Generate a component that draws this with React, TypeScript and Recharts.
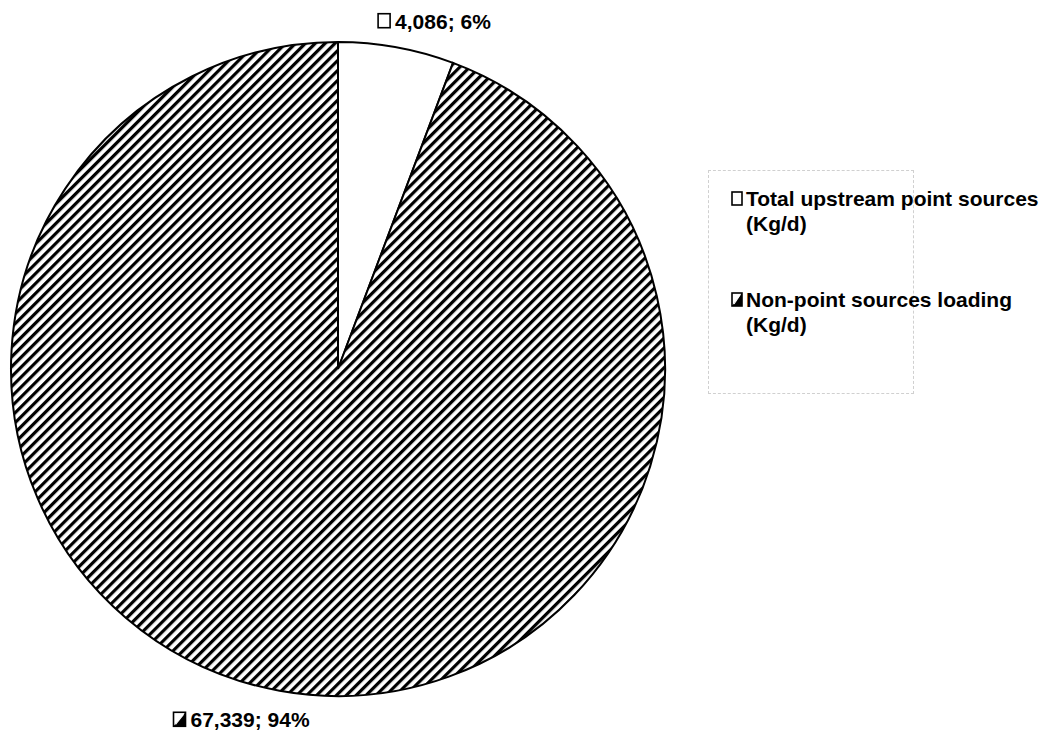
import { PieChart, Pie, Cell, Legend } from 'recharts';

const categories = ['Total upstream point sources (Kg/d)', 'Non-point sources loading (Kg/d)'];
const loads = [4086, 67339];

const data = categories.map((name, i) => ({ name, value: loads[i] }));

const RADIAN = Math.PI / 180;
const FONT = '"Liberation Sans", Arial, "DejaVu Sans", sans-serif';
const LABEL_SIZE = 21;

// rough Arial bold advance widths (em) for the label characters
const charW: Record<string, number> = { ',': 0.278, ';': 0.333, ' ': 0.278, '%': 0.889 };
function textWidth(s: string, size: number) {
  let w = 0;
  for (const c of s) w += charW[c] ?? 0.556;
  return w * size;
}

function Icon({ x, y, w, h, index }: { x: number; y: number; w: number; h: number; index: number }) {
  return (
    <g>
      <rect x={x} y={y} width={w} height={h} fill="#fff" stroke="#000" strokeWidth={1.6} />
      {index === 1 && <polygon points={`${x + w},${y} ${x + w},${y + h} ${x},${y + h}`} fill="#000" />}
      {index === 1 && (
        <line x1={x + 2} y1={y + h - 2} x2={x + w - 2} y2={y + 2} stroke="#fff" strokeWidth={1.2} />
      )}
    </g>
  );
}

function renderLabel(props: any) {
  const { cx, cy, midAngle, outerRadius, value, percent, index } = props;
  const r = outerRadius + 28;
  const cos = Math.cos(-midAngle * RADIAN);
  const ax = cx + r * cos;
  const ay = cy + r * Math.sin(-midAngle * RADIAN);
  const txt = `${value.toLocaleString('en-US')}; ${Math.round(percent * 100)}%`;
  const groupW = 17 + textWidth(txt, LABEL_SIZE);
  const center = ax + (cos >= 0 ? 33 : -33);
  const left = center - groupW / 2;
  const baseline = ay + 9;
  return (
    <g>
      <Icon x={left} y={baseline - 15} w={12} h={14} index={index} />
      <text
        x={left + 17}
        y={baseline}
        textAnchor="start"
        fontFamily={FONT}
        fontWeight="bold"
        fontSize={LABEL_SIZE}
        fill="#000"
      >
        {txt}
      </text>
    </g>
  );
}

function renderLegend() {
  return (
    <div style={{ fontFamily: FONT, fontWeight: 'bold', fontSize: 21, lineHeight: '25px', color: '#000' }}>
      {categories.map((name, i) => (
        <div key={name} style={{ display: 'flex', alignItems: 'flex-start', marginBottom: 51 }}>
          <svg width={12} height={15} style={{ marginRight: 3, marginTop: 5, flexShrink: 0 }}>
            <Icon x={1} y={1} w={10} h={13} index={i} />
          </svg>
          <div style={{ width: 300 }}>{name}</div>
        </div>
      ))}
    </div>
  );
}

export default function App() {
  return (
    <div style={{ position: 'absolute', left: 0, top: 0, width: 1048, height: 732, background: '#fff' }}>
      <div
        style={{
          position: 'absolute',
          left: 708,
          top: 170,
          width: 204,
          height: 222,
          border: '1px dashed #d0d0d0',
        }}
      />
      <PieChart width={1048} height={732} margin={{ top: 0, right: 0, bottom: 0, left: 0 }}>
        <defs>
          <pattern id="hatch" patternUnits="userSpaceOnUse" width={7} height={7} patternTransform="rotate(45)">
            <rect x={0} y={0} width={7} height={7} fill="#fff" />
            <rect x={0} y={0} width={3.2} height={7} fill="#000" />
          </pattern>
        </defs>
        <Pie
          data={data}
          dataKey="value"
          nameKey="name"
          cx={338}
          cy={369}
          outerRadius={327}
          startAngle={90}
          endAngle={-270}
          stroke="#000"
          strokeWidth={2}
          label={renderLabel}
          labelLine={false}
          isAnimationActive={false}
        >
          <Cell fill="#fff" />
          <Cell fill="url(#hatch)" />
        </Pie>
        <Legend
          content={renderLegend}
          wrapperStyle={{ position: 'absolute', left: 731, top: 186, width: 317 }}
        />
      </PieChart>
    </div>
  );
}
